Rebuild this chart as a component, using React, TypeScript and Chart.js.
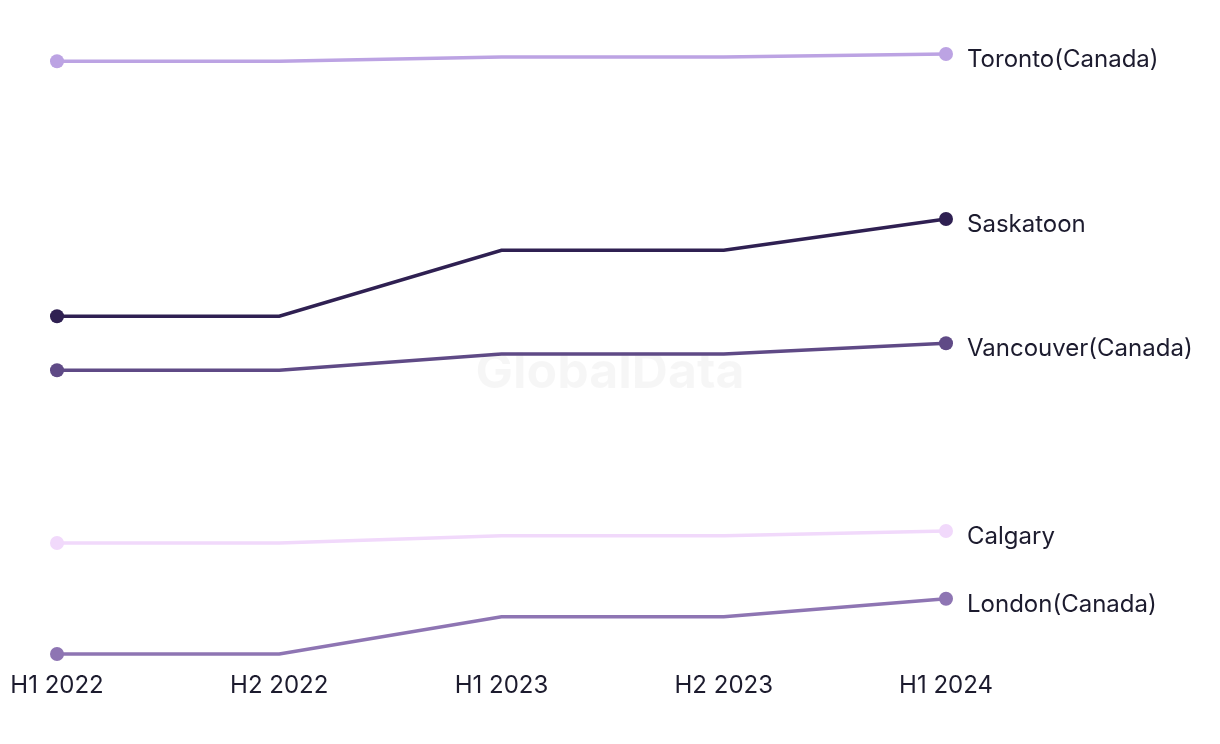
import React, { useEffect, useRef } from "react";
import { Chart, registerables } from "chart.js";

Chart.register(...registerables);

const periods = ["H1 2022", "H2 2022", "H1 2023", "H2 2023", "H1 2024"];
const seriesNames = ["Toronto(Canada)", "Saskatoon", "Vancouver(Canada)", "Calgary", "London(Canada)"];
const toronto = [98.8, 98.8, 99.5, 99.5, 100];
const saskatoon = [56.3, 56.3, 67.3, 67.3, 72.5];
const vancouver = [47.3, 47.3, 50.0, 50.0, 51.8];
const calgary = [18.5, 18.5, 19.7, 19.7, 20.5];
const london = [0, 0, 6.2, 6.2, 9.2];
const colors = ["#bca3e3", "#2f2052", "#5f4a86", "#f1d9fb", "#8e75b3"];

const FONT = "Inter, 'Noto Sans', sans-serif";
const TEXT = "#1c1b2e";

const endLabels = {
  id: "endLabels",
  afterDatasetsDraw(chart: any) {
    const ctx = chart.ctx;
    ctx.save();
    ctx.font = `24px ${FONT}`;
    ctx.fillStyle = TEXT;
    ctx.textAlign = "left";
    ctx.textBaseline = "middle";
    chart.data.datasets.forEach((ds: any, i: number) => {
      const meta = chart.getDatasetMeta(i);
      const pt = meta.data[meta.data.length - 1];
      ctx.fillText(ds.label, pt.x + 21, pt.y + 6);
    });
    ctx.restore();
  },
};

const watermark = {
  id: "watermark",
  beforeDatasetsDraw(chart: any) {
    const ctx = chart.ctx;
    ctx.save();
    ctx.font = `bold 50px ${FONT}`;
    ctx.fillStyle = "rgba(0,0,0,0.035)";
    ctx.textAlign = "center";
    ctx.textBaseline = "middle";
    ctx.fillText("GlobalData", 610, 373);
    ctx.restore();
  },
};

export default function App() {
  const ref = useRef<HTMLCanvasElement>(null);
  useEffect(() => {
    const values = [toronto, saskatoon, vancouver, calgary, london];
    const chart = new Chart(ref.current!, {
      type: "line",
      data: {
        labels: periods,
        datasets: values.map((v, i) => ({
          label: seriesNames[i],
          data: v,
          borderColor: colors[i],
          backgroundColor: colors[i],
          borderWidth: 3.5,
          pointRadius: v.map((_, j) => (j === 0 || j === v.length - 1 ? 7 : 0)),
          pointHoverRadius: 0,
          pointBorderWidth: 0,
          tension: 0,
          clip: false as any,
        })),
      },
      options: {
        animation: false,
        responsive: true,
        maintainAspectRatio: false,
        layout: { padding: { top: 54, bottom: 44, left: 57, right: 274 } },
        plugins: { legend: { display: false }, tooltip: { enabled: false } },
        scales: {
          x: {
            grid: { display: false, drawTicks: false },
            border: { display: false },
            afterFit: (scale: any) => {
              scale.height = 46;
              scale.paddingLeft = 0;
              scale.paddingRight = 0;
            },
            ticks: {
              color: TEXT,
              font: { family: FONT, size: 24 },
              padding: 17,
              maxRotation: 0,
            },
          },
          y: { display: false, min: 0, max: 100 },
        },
      },
      plugins: [watermark, endLabels],
    });
    return () => chart.destroy();
  }, []);
  return (
    <div style={{ position: "fixed", left: 0, top: 0, width: 1220, height: 744, background: "#fff" }}>
      <canvas ref={ref} />
    </div>
  );
}
